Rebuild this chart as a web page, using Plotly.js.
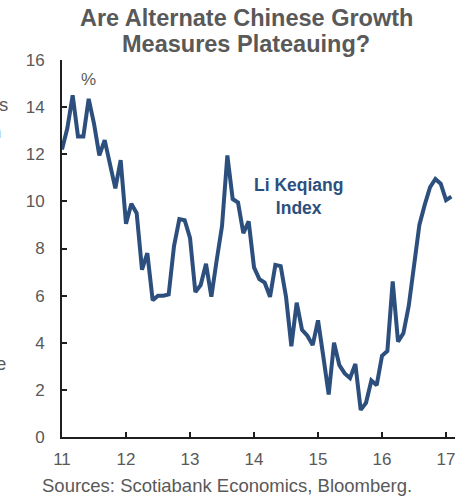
<!DOCTYPE html>
<html>
<head>
<meta charset="utf-8">
<script src="https://cdn.plot.ly/plotly-3.0.1.min.js"></script>
<style>
html,body{margin:0;padding:0;background:#fff;}
#chart{width:466px;height:496px;}
</style>
</head>
<body>
<div id="chart"></div>
<script>
// Li Keqiang Index, monthly, Jan 2011 .. Feb 2017 (y/y %)
const startYear = 11;
const liKeqiang = [
  12.2, 13.1, 14.5, 12.75, 12.75, 14.35, 13.3, 11.95, 12.6, 11.6, 10.55, 11.75,
  9.05, 9.9, 9.5, 7.1, 7.8, 5.8, 6.0, 6.0, 6.05, 8.1, 9.25, 9.2,
  8.45, 6.15, 6.45, 7.35, 5.95, 7.5, 8.95, 11.95, 10.1, 9.95, 8.65, 9.15,
  7.2, 6.7, 6.55, 5.95, 7.3, 7.25, 5.95, 3.85, 5.7, 4.55, 4.3, 3.9,
  4.95, 3.4, 1.8, 4.0, 3.05, 2.7, 2.5, 3.1, 1.15, 1.45, 2.4, 2.2,
  3.45, 3.65, 6.6, 4.05, 4.4, 5.55, 7.2, 9.0, 9.85, 10.6, 10.95, 10.75,
  10.05, 10.2
];
const xTicks = [11, 12, 13, 14, 15, 16, 17];
const xTickLabels = ['11', '12', '13', '14', '15', '16', '17'];
const yTicks = [0, 2, 4, 6, 8, 10, 12, 14, 16];

const xVals = liKeqiang.map((v, i) => startYear + i / 12);

const gray = '#595959';
const blue = '#2C4F7E';
const font = 'Liberation Sans, Arial, sans-serif';

const trace = {
  x: xVals,
  y: liKeqiang,
  type: 'scatter',
  mode: 'lines',
  line: {color: blue, width: 4},
  hoverinfo: 'skip'
};

const layout = {
  width: 466,
  height: 496,
  margin: {l: 62, r: 11, t: 60, b: 59},
  paper_bgcolor: '#ffffff',
  plot_bgcolor: '#ffffff',
  showlegend: false,
  font: {family: font, color: gray, size: 17},
  xaxis: {
    range: [11, 17.14],
    tickvals: xTicks,
    ticktext: xTickLabels,
    ticks: 'inside',
    ticklen: 5,
    tickwidth: 2,
    tickcolor: '#1f1f1f',
    showline: true,
    linecolor: '#1f1f1f',
    linewidth: 2,
    showgrid: false,
    zeroline: false,
    tickfont: {family: font, color: gray, size: 17},
    ticklabelstandoff: 6,
    fixedrange: true
  },
  yaxis: {
    range: [0, 16],
    tickvals: yTicks,
    ticks: 'inside',
    ticklen: 5,
    tickwidth: 2,
    tickcolor: '#1f1f1f',
    showline: true,
    linecolor: '#1f1f1f',
    linewidth: 2,
    showgrid: false,
    zeroline: false,
    tickfont: {family: font, color: gray, size: 17},
    ticklabelstandoff: 12,
    fixedrange: true
  },
  annotations: [
    {text: '<b>Are Alternate Chinese Growth</b>', xref: 'paper', yref: 'paper',
     x: (246 - 62) / 393, y: (437 - 18) / 377, xanchor: 'center', yanchor: 'middle',
     showarrow: false, font: {family: font, size: 23.5, color: gray}},
    {text: '<b>Measures Plateauing?</b>', xref: 'paper', yref: 'paper',
     x: (246 - 62) / 393, y: (437 - 44) / 377, xanchor: 'center', yanchor: 'middle',
     showarrow: false, font: {family: font, size: 23.5, color: gray}},
    {text: '%', xref: 'paper', yref: 'paper',
     x: (88 - 62) / 393, y: (437 - 80) / 377, xanchor: 'center', yanchor: 'middle',
     showarrow: false, font: {family: font, size: 17, color: gray}},
    {text: '<b>Li Keqiang<br>Index</b>', xref: 'paper', yref: 'paper',
     x: (298 - 62) / 393, y: (437 - 196) / 377, xanchor: 'center', yanchor: 'middle',
     showarrow: false, font: {family: font, size: 17.5, color: blue}},
    {text: 'Sources: Scotiabank Economics, Bloomberg.', xref: 'paper', yref: 'paper',
     x: (227 - 62) / 393, y: (437 - 485.5) / 377, xanchor: 'center', yanchor: 'middle',
     showarrow: false, font: {family: font, size: 18.5, color: gray}},
    {text: 's', xref: 'paper', yref: 'paper',
     x: (10 - 62) / 393, y: (437 - 104) / 377, xanchor: 'right', yanchor: 'middle',
     showarrow: false, font: {family: font, size: 18.5, color: gray}},
    {text: 'n', xref: 'paper', yref: 'paper',
     x: (3 - 62) / 393, y: (437 - 131) / 377, xanchor: 'right', yanchor: 'middle',
     showarrow: false, font: {family: font, size: 18.5, color: gray}},
    {text: 'e', xref: 'paper', yref: 'paper',
     x: (8 - 62) / 393, y: (437 - 363) / 377, xanchor: 'right', yanchor: 'middle',
     showarrow: false, font: {family: font, size: 18.5, color: gray}}
  ]
};

Plotly.newPlot('chart', [trace], layout, {staticPlot: true, displayModeBar: false});
</script>
</body>
</html>
